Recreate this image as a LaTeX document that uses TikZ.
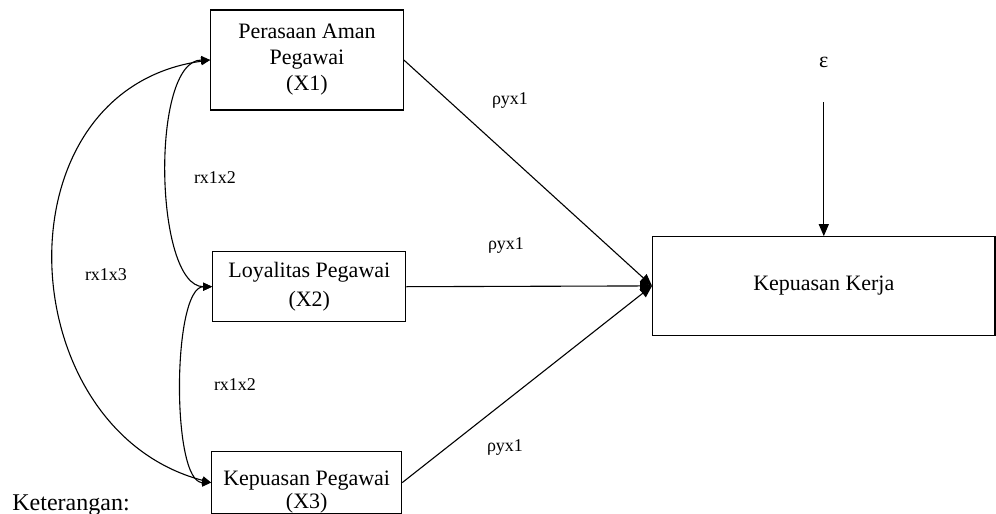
\documentclass[tikz,border=0pt]{standalone}
\usepackage{fontspec}
\setmainfont{Liberation Serif}
\usetikzlibrary{arrows.meta, positioning}

\tikzset{
  varbox/.style={draw=black, line width=0.55pt, align=center, inner sep=0pt,
    font=\fontsize{11}{13}\selectfont},
  coeflabel/.style={font=\fontsize{9}{10}\selectfont, inner sep=0pt},
  pathline/.style={black, line width=0.55pt, -{Triangle[length=6pt,width=5pt]}},
  corrline/.style={black, line width=0.55pt,
    {Triangle[length=4.5pt,width=4pt]}-{Triangle[length=4.5pt,width=4pt]}},
}

\begin{document}
\begin{tikzpicture}[x=0.5pt, y=-0.5pt]
\useasboundingbox (0,0) rectangle (996,514);

% Independent variables
\node[varbox, minimum width=96.3pt, minimum height=50pt] (x1) at (307,60)
  {Perasaan Aman\\Pegawai\\(X1)};
\node[
  varbox,
  minimum width=96.6pt,
  minimum height=35pt,
  font=\fontsize{11}{14.5}\selectfont
] (x2) at (309.3,286.7) {Loyalitas Pegawai\\(X2)};
\node[
  varbox,
  minimum width=95pt,
  minimum height=30.9pt,
  font=\fontsize{11}{11.5}\selectfont
] (x3) at (306.7,482.6) {\rule{0pt}{16.5pt}Kepuasan Pegawai\\(X3)};

% Dependent variable and error term
\node[varbox, minimum width=171.2pt, minimum height=49.2pt] (kk) at (823.8,285.9)
  {Kepuasan Kerja};
\node[font=\fontsize{11}{13}\selectfont, inner sep=0pt] (eps) at (823.8,62) {ε};
\coordinate (epstail) at (823.8,102);

% Path coefficients
\draw[pathline] (x1.east) -- (kk.west);
\draw[pathline] (x2.east) -- (kk.west);
\draw[pathline] (x3.east) -- (kk.west);
\draw[pathline] (epstail) -- (kk.north);

\node[coeflabel] (pyx1a) at (510,100) {ρyx1};
\node[coeflabel] (pyx1b) at (506,245) {ρyx1};
\node[coeflabel] (pyx1c) at (505,447) {ρyx1};

% Correlations between the independent variables
\draw[corrline] (x1.west) .. controls +(-60,0) and +(-58,0) .. (x2.west);
\draw[corrline] (x2.west) .. controls +(-40,0) and +(-40,0) .. (x3.west);
\draw[corrline] (x1.west) .. controls +(-216,30) and +(-202,-53) .. (x3.west);

\node[coeflabel] (rx1x2a) at (215,178) {rx1x2};
\node[coeflabel] (rx1x2b) at (235,385) {rx1x2};
\node[coeflabel] (rx1x3) at (106,275) {rx1x3};

% Caption
\node[font=\fontsize{12}{14}\selectfont, anchor=base west, inner sep=0pt] (note)
  at (12,510) {Keterangan:};

\end{tikzpicture}
\end{document}
